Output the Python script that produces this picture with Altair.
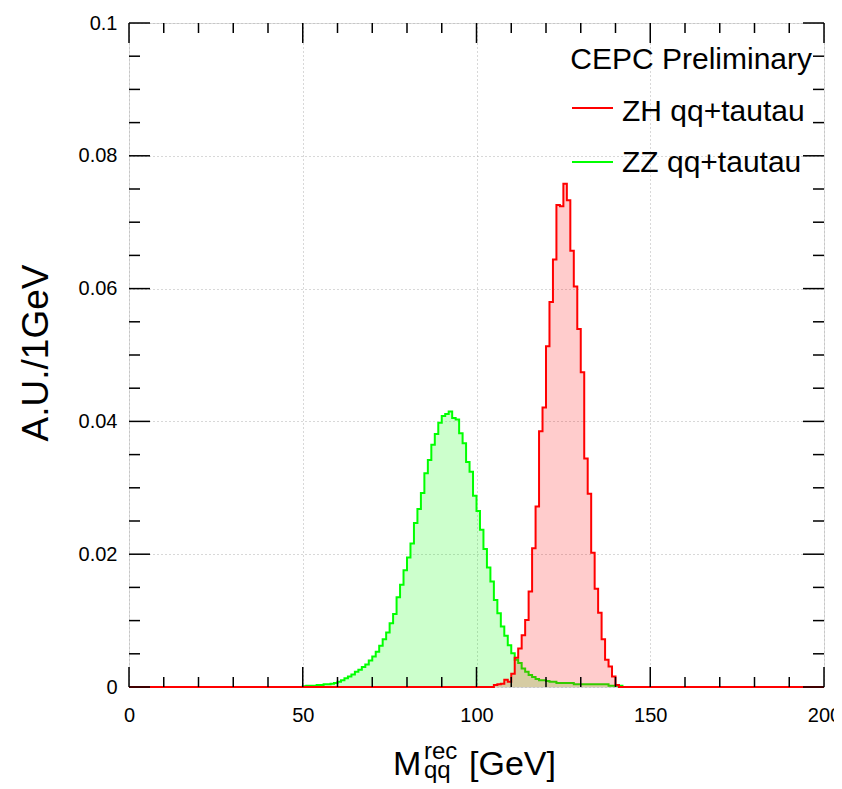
import altair as alt
import pandas as pd
import numpy as np

# ---------------- data ----------------
N_BINS = 200          # 1 GeV bins from 0 to 200 GeV
BIN_WIDTH = 1

ZH_LABEL = "ZH qq+tautau"
ZH_COLOR = "#ff0000"
zh_first_bin = 105
zh_values = [0.0003, 0.0004, 0.0005, 0.0011, 0.0008, 0.0020, 0.0044, 0.0058,
             0.0078, 0.0101, 0.0144, 0.0209, 0.0272, 0.0385, 0.0421, 0.0513,
             0.0580, 0.0644, 0.0726, 0.0724, 0.0758, 0.0733, 0.0657, 0.0603,
             0.0539, 0.0474, 0.0344, 0.0291, 0.0202, 0.0148, 0.0112, 0.0072,
             0.0041, 0.0031, 0.0016, 0.0003]

ZZ_LABEL = "ZZ qq+tautau"
ZZ_COLOR = "#00ff00"
zz_first_bin = 50
zz_values = [0.0001, 0.0002, 0.0002, 0.0002, 0.0003, 0.0003, 0.0004, 0.0004,
             0.0005, 0.0006, 0.0008, 0.0010, 0.0013, 0.0016, 0.0019, 0.0023,
             0.0026, 0.0030, 0.0034, 0.0040, 0.0046, 0.0053, 0.0062, 0.0072,
             0.0082, 0.0096, 0.0110, 0.0135, 0.0154, 0.0176, 0.0195, 0.0216,
             0.0247, 0.0268, 0.0292, 0.0322, 0.0342, 0.0365, 0.0381, 0.0398,
             0.0408, 0.0411, 0.0415, 0.0405, 0.0403, 0.0382, 0.0367, 0.0339,
             0.0324, 0.0288, 0.0265, 0.0237, 0.0208, 0.0180, 0.0159, 0.0131,
             0.0111, 0.0091, 0.0077, 0.0063, 0.0051, 0.0041, 0.0036, 0.0028,
             0.0023, 0.0018, 0.0015, 0.0012, 0.0010, 0.0010, 0.0009, 0.0008,
             0.0008, 0.0006, 0.0006, 0.0006, 0.0006, 0.0006, 0.0004, 0.0004,
             0.0004, 0.0004, 0.0004, 0.0004, 0.0004, 0.0004, 0.0004, 0.0004,
             0.0002, 0.0002, 0.0002, 0.0002]

x_ticks_major = [0, 50, 100, 150, 200]
x_ticks_minor = [v for v in range(0, 201, 10) if v % 50 != 0]
y_ticks_major = [0, 0.02, 0.04, 0.06, 0.08, 0.1]
y_ticks_minor = [round(v * 0.005, 3) for v in range(0, 21) if v % 4 != 0]

TEXT_TOP = "CEPC Preliminary"
Y_TITLE = "A.U./1GeV"
X_TITLE_MAIN = "M"
X_TITLE_SUP = "rec"
X_TITLE_SUB = "qq"
X_TITLE_UNIT = "[GeV]"

# ---------------- layout ----------------
W, H = 695, 664
FONT = "Liberation Sans"


def hist_frame(first_bin, values):
    full = [0.0] * first_bin + list(values)
    full += [0.0] * (N_BINS - len(full))
    edges = [i * BIN_WIDTH for i in range(N_BINS)] + [N_BINS * BIN_WIDTH]
    full = full + [full[-1]]
    return pd.DataFrame({"m": edges, "v": full})


xs = alt.Scale(domain=[0, 200], nice=False, zero=False)
ys = alt.Scale(domain=[0, 0.1], nice=False)

x_axis = alt.Axis(values=x_ticks_major, grid=True, gridDash=[1, 3], gridColor="#b0b0b0",
                  gridWidth=1, ticks=False, domain=False, labelFont=FONT, labelFontSize=20,
                  labelColor="black", labelPadding=18, labelFlush=False, title=None,
                  format="d")
y_axis = alt.Axis(values=y_ticks_major, grid=True, gridDash=[1, 3], gridColor="#b0b0b0",
                  gridWidth=1, ticks=False, domain=False, labelFont=FONT, labelFontSize=20,
                  labelColor="black", labelPadding=12, labelFlush=False, title=None,
                  format="~g")


def hist_layers(df, color, first):
    base = alt.Chart(df)
    if first:
        enc_x = alt.X("m:Q", scale=xs, axis=x_axis)
        enc_y = alt.Y("v:Q", scale=ys, axis=y_axis)
    else:
        enc_x = alt.X("m:Q", scale=xs)
        enc_y = alt.Y("v:Q", scale=ys)
    area = base.mark_area(interpolate="step-after", color=color, opacity=0.2).encode(x=enc_x, y=enc_y)
    line = base.mark_line(interpolate="step-after", color=color, strokeWidth=2).encode(
        x=alt.X("m:Q", scale=xs), y=alt.Y("v:Q", scale=ys))
    return area, line


zz_area, zz_line = hist_layers(hist_frame(zz_first_bin, zz_values), ZZ_COLOR, True)
zh_area, zh_line = hist_layers(hist_frame(zh_first_bin, zh_values), ZH_COLOR, False)


# inward ticks on all four sides (ROOT style)
def xticks(vals, length):
    d = pd.DataFrame({"t": vals})
    b = alt.Chart(d).mark_rule(color="black", strokeWidth=1.5)
    bottom = b.encode(x=alt.X("t:Q", scale=xs), y=alt.value(H), y2=alt.value(H - length))
    top = b.encode(x=alt.X("t:Q", scale=xs), y=alt.value(0), y2=alt.value(length))
    return [bottom, top]


def yticks(vals, length):
    d = pd.DataFrame({"t": vals})
    b = alt.Chart(d).mark_rule(color="black", strokeWidth=1.5)
    left = b.encode(y=alt.Y("t:Q", scale=ys), x=alt.value(0), x2=alt.value(length))
    right = b.encode(y=alt.Y("t:Q", scale=ys), x=alt.value(W), x2=alt.value(W - length))
    return [left, right]


tick_layers = xticks(x_ticks_major, 20) + xticks(x_ticks_minor, 10) + \
    yticks(y_ticks_major, 21) + yticks(y_ticks_minor, 11)


def label(text, x, y, size, align="left", angle=0, baseline="alphabetic"):
    kw = dict(font=FONT, fontSize=size, align=align, baseline=baseline, color="black")
    if angle:
        kw["angle"] = angle
    return alt.Chart(pd.DataFrame({"s": [text]})).mark_text(**kw).encode(
        text="s:N", x=alt.value(x), y=alt.value(y))


texts = [
    label(TEXT_TOP, 683, 46, 30, align="right"),
    label(ZH_LABEL, 493, 98, 30),
    label(ZZ_LABEL, 493, 149, 30),
    label(Y_TITLE, -81, 330, 37, align="center", angle=270, baseline="alphabetic"),
    label(X_TITLE_MAIN, 264, 752, 34),
    label(X_TITLE_SUP, 295, 736, 24),
    label(X_TITLE_SUB, 295, 755, 24),
    label(X_TITLE_UNIT, 340, 752, 34),
]


def legend_line(color, y):
    return alt.Chart(pd.DataFrame({"c": [color]})).mark_rule(color=color, strokeWidth=2).encode(
        x=alt.value(443), x2=alt.value(484), y=alt.value(y))


legend = [legend_line(ZH_COLOR, 85), legend_line(ZZ_COLOR, 139)]

chart = alt.layer(zz_area, zz_line, zh_area, zh_line, *tick_layers, *legend, *texts).properties(
    width=W, height=H,
    autosize=alt.AutoSizeParams(type="none"),
    padding={"left": 121, "top": 15, "right": 10, "bottom": 102},
).configure_view(stroke="black", strokeWidth=2.5).configure(background="white")

chart.save("out.html", embed_options={"renderer": "svg", "actions": False})
